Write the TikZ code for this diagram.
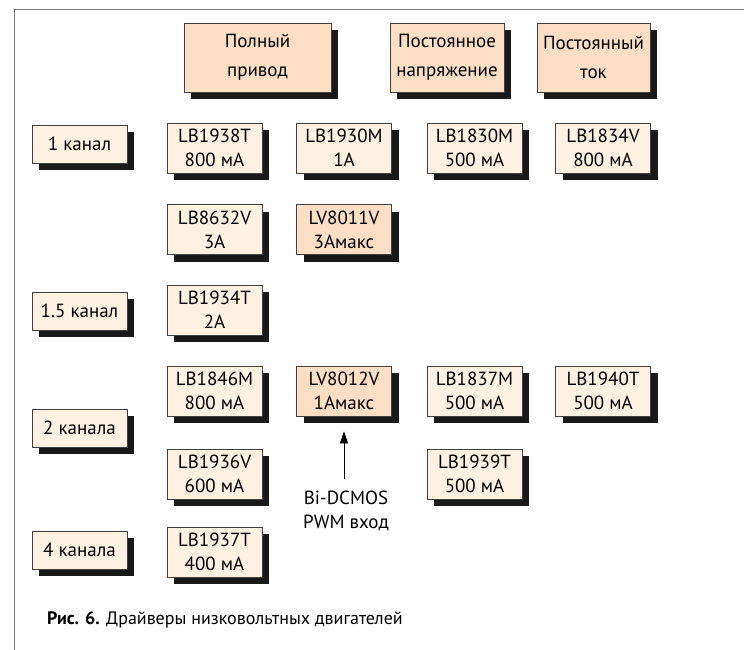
\documentclass[tikz,border=0pt]{standalone}
\usepackage{fontspec}
\setmainfont{PT Sans}
\usetikzlibrary{shadows,arrows.meta}

\definecolor{chipfill}{RGB}{254,241,226}
\definecolor{headfill}{RGB}{252,222,196}
\definecolor{framegray}{RGB}{120,120,120}

\begin{document}
\begin{tikzpicture}[
	x=1pt, y=-1pt,
	font=\fontsize{19}{24}\selectfont,
	box/.style={ draw=black!75, line width=0.8pt, inner sep=0pt, align=center,
		drop shadow={shadow xshift=7pt, shadow yshift=-7pt, fill=black!90, opacity=1} },
	chip/.style={ box, fill=chipfill, minimum width=95pt, minimum height=50pt },
	chiph/.style={ chip, fill=headfill },
	head/.style={ box, fill=headfill, minimum height=69pt, font=\fontsize{19}{29}\selectfont },
	chan/.style={ box, fill=chipfill, minimum width=95pt, minimum height=38pt }
]
\useasboundingbox (0,0) rectangle (744,650);
\draw[framegray, line width=0.8pt] (14,650) -- (14,9) -- (744,9);

\node at (257.5,57.5) (full) [head,minimum width=147pt] {Полный\\привод};
\node at (447,57.5) (volt) [head,minimum width=114pt] {Постоянное\\напряжение};
\node at (593.5,57.5) (curr) [head,minimum width=113pt] {Постоянный\\ток};

\node at (79.5,144) (one) [chan] {1 канал};
\node at (79.5,311) (onehalf) [chan] {1.5 канал};
\node at (79.5,428) (two) [chan] {2 канала};
\node at (79.5,550) (four) [chan] {4 канала};

\node at (214.5,148) (lba) [chip] {LB1938T\\800 мА};
\node at (344,148) (lbb) [chip] {LB1930M\\1А};
\node at (474.5,148) (lbc) [chip] {LB1830M\\500 мА};
\node at (603,148) (lbd) [chip] {LB1834V\\800 мА};

\node at (214.5,229.5) (lbe) [chip] {LB8632V\\3А};
\node at (344,229.5) (lva) [chiph] {LV8011V\\3Амакс};

\node at (214.5,310) (lbf) [chip] {LB1934T\\2А};

\node at (214.5,391) (lbg) [chip] {LB1846M\\800 мА};
\node at (344,391) (lvb) [chiph] {LV8012V\\1Амакс};
\node at (474.5,391) (lbh) [chip] {LB1837M\\500 мА};
\node at (603,391) (lbi) [chip] {LB1940T\\500 мА};

\node at (214.5,474) (lbj) [chip] {LB1936V\\600 мА};
\node at (474.5,474) (lbk) [chip] {LB1939T\\500 мА};

\node at (214.5,552) (lbl) [chip] {LB1937T\\400 мА};

\node at (346,511) (bidc) [align=center,inner sep=0pt] {Bi-DCMOS\\PWM вход};
\draw[-{Triangle[length=12pt,width=8pt]}, line width=0.6pt, shorten <=12pt, shorten >=15pt]
	(bidc.north -| lvb.south) -- (lvb.south);

\node at (47,620) (capt) [anchor=west,inner sep=0pt,font=\fontsize{18}{22}\selectfont]
	{\textbf{Рис. 6.} Драйверы низковольтных двигателей};

\end{tikzpicture}
\end{document}
